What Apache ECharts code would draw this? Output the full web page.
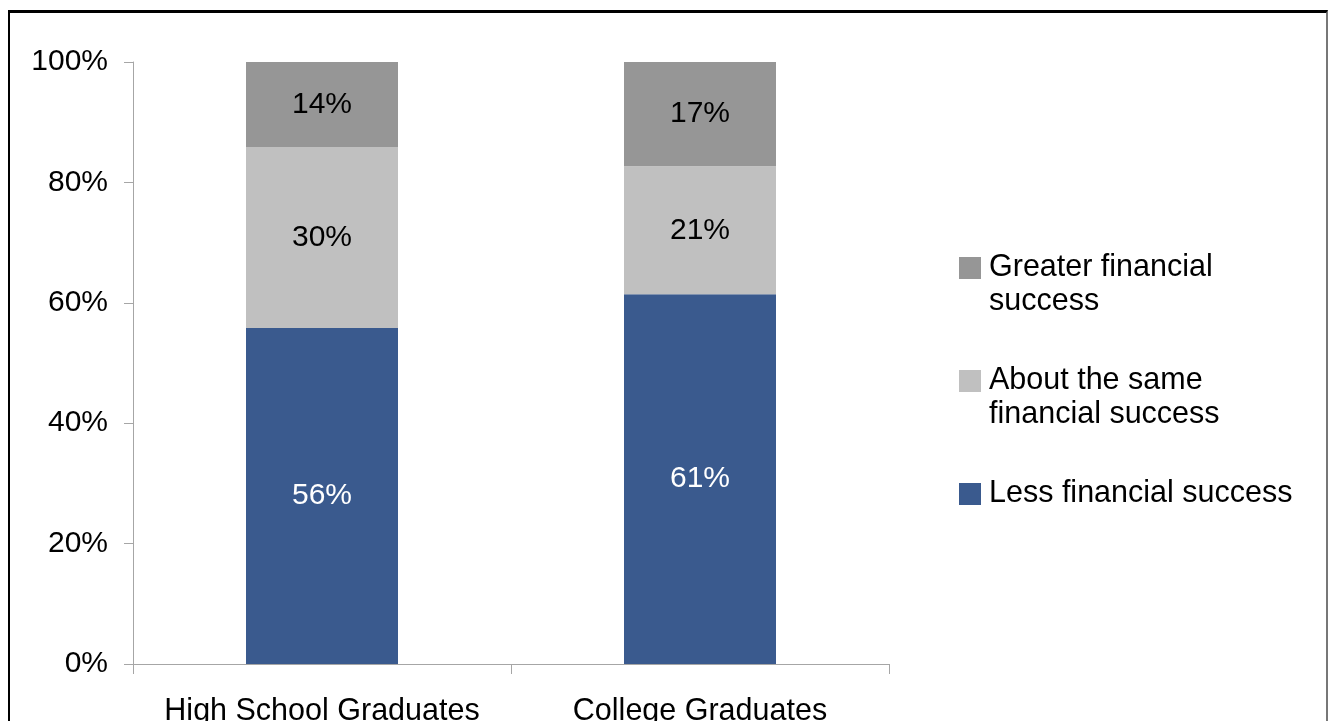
<!DOCTYPE html>
<html>
<head>
<meta charset="utf-8">
<script src="https://cdn.jsdelivr.net/npm/echarts@6/dist/echarts.min.js"></script>
<style>
html,body{margin:0;padding:0;background:#fff;}
#chart{position:absolute;left:0;top:0;width:1332px;height:721px;}
#frame{position:absolute;left:8px;top:10px;width:1320px;height:760px;border-top:3px solid #000;border-left:2px solid #000;border-right:2px solid #777;pointer-events:none;box-sizing:border-box;}
</style>
</head>
<body>
<div id="chart"></div>
<div id="frame"></div>
<script>
const categories = ['High School Graduates', 'College Graduates'];
const seriesNames = ['Less financial success', 'About the same\nfinancial success', 'Greater financial\nsuccess'];
const lessValues = [55.8, 61.4];
const sameValues = [30.1, 21.3];
const greaterValues = [14.1, 17.3];
const yTicks = [0, 20, 40, 60, 80, 100];

const FONT = '"Liberation Sans", Arial, Helvetica, sans-serif';
const colors = ['#3a5a8e', '#c0c0c0', '#969696'];
const labelColors = ['#fff', '#000', '#000'];
const values = [lessValues, sameValues, greaterValues];

const chart = echarts.init(document.getElementById('chart'), null, {renderer: 'canvas'});
const option = {
  animation: false,
  backgroundColor: '#fff',
  grid: {left: 133, right: 443, top: 62, bottom: 57, containLabel: false, outerBoundsMode: 'none'},
  legend: {
    orient: 'vertical',
    left: 959,
    top: 217,
    padding: 0,
    itemWidth: 22,
    itemHeight: 22,
    itemGap: 11,
    icon: 'rect',
    textStyle: {fontFamily: FONT, fontSize: 30.5, color: '#000', lineHeight: 34, padding: [0, 0, 0, 3]},
    formatter: name => {
      const lines = name.split('\n');
      return ' \n' + lines[0] + '\n' + (lines[1] || ' ');
    },
    data: [seriesNames[2], seriesNames[1], seriesNames[0]]
  },
  xAxis: {
    type: 'category',
    data: categories,
    axisLine: {lineStyle: {color: '#a6a6a6', width: 1}},
    axisTick: {show: true, length: 10, lineStyle: {color: '#a6a6a6'}},
    axisLabel: {fontFamily: FONT, fontSize: 30.5, color: '#000', margin: 32, interval: 0}
  },
  yAxis: {
    type: 'value',
    min: 0, max: 100, interval: 20,
    axisLine: {show: true, lineStyle: {color: '#a6a6a6', width: 1}},
    axisTick: {show: true, length: 9, lineStyle: {color: '#a6a6a6'}},
    splitLine: {show: false},
    axisLabel: {fontFamily: FONT, fontSize: 30, color: '#000', margin: 25,
      formatter: v => yTicks.includes(v) ? v + '%' : ''}
  },
  series: values.map((vals, i) => ({
    name: seriesNames[i],
    type: 'bar',
    stack: 'total',
    barWidth: 152,
    itemStyle: {color: colors[i]},
    label: {show: true, position: 'inside', fontFamily: FONT, fontSize: 30, color: labelColors[i],
      formatter: p => Math.round(p.value) + '%'},
    data: vals
  }))
};
chart.setOption(option);
</script>
</body>
</html>
